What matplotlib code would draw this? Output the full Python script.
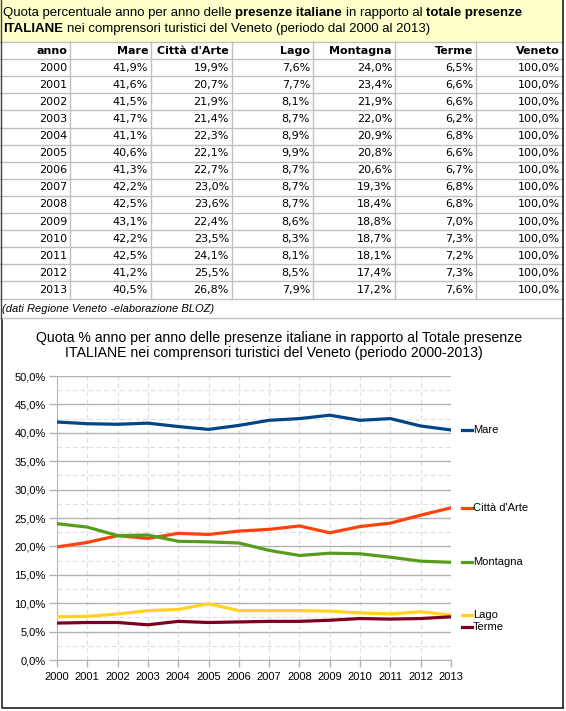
import matplotlib
matplotlib.use('Agg')
import matplotlib.pyplot as plt
from matplotlib.patches import Rectangle
from matplotlib.ticker import MultipleLocator, FuncFormatter
from matplotlib import transforms

# dati Regione Veneto - quota % presenze italiane
anni = [2000, 2001, 2002, 2003, 2004, 2005, 2006, 2007, 2008, 2009, 2010, 2011, 2012, 2013]
mare = [41.9, 41.6, 41.5, 41.7, 41.1, 40.6, 41.3, 42.2, 42.5, 43.1, 42.2, 42.5, 41.2, 40.5]
citta = [19.9, 20.7, 21.9, 21.4, 22.3, 22.1, 22.7, 23.0, 23.6, 22.4, 23.5, 24.1, 25.5, 26.8]
lago = [7.6, 7.7, 8.1, 8.7, 8.9, 9.9, 8.7, 8.7, 8.7, 8.6, 8.3, 8.1, 8.5, 7.9]
montagna = [24.0, 23.4, 21.9, 22.0, 20.9, 20.8, 20.6, 19.3, 18.4, 18.8, 18.7, 18.1, 17.4, 17.2]
terme = [6.5, 6.6, 6.6, 6.2, 6.8, 6.6, 6.7, 6.8, 6.8, 7.0, 7.3, 7.2, 7.3, 7.6]
veneto = [100.0, 100.0, 100.0, 100.0, 100.0, 100.0, 100.0, 100.0, 100.0, 100.0, 100.0, 100.0, 100.0, 100.0]

colonne = ['anno', 'Mare', "Città d'Arte", 'Lago', 'Montagna', 'Terme', 'Veneto']
serie = [('Mare', mare, '#004586'),
         ("Città d'Arte", citta, '#FF420E'),
         ('Montagna', montagna, '#579D1C'),
         ('Lago', lago, '#FFD320'),
         ('Terme', terme, '#7E0021')]


def pct(v):
    return ('%.1f%%' % v).replace('.', ',')


W, H = 566, 711
fig = plt.figure(figsize=(W / 100, H / 100), dpi=100)
bg = fig.add_axes([0, 0, 1, 1])
bg.set_xlim(0, W)
bg.set_ylim(H, 0)
bg.axis('off')
r = fig.canvas.get_renderer()

grigio = '#C0C0C0'
tfont = 'DejaVu Sans'
sfont = 'Liberation Sans'
tsize = 9.5

# titolo su sfondo giallo
bg.add_patch(Rectangle((0, 0), 563, 42, fc='#FFFFCC', ec='none'))


def riga_mista(pezzi, x, y):
    sp = (bg.text(0, 0, 'x x', fontsize=tsize, family=sfont).get_window_extent(r).width
          - bg.text(0, 0, 'xx', fontsize=tsize, family=sfont).get_window_extent(r).width)
    for t in bg.texts[-2:]:
        t.remove()
    for testo, peso in pezzi:
        t = bg.text(x, y, testo, fontsize=tsize, family=sfont, fontweight=peso, va='center', ha='left')
        x += t.get_window_extent(r).width + sp


riga_mista([('Quota percentuale anno per anno delle', 'normal'), ('presenze italiane', 'bold'),
            ('in rapporto al', 'normal'), ('totale presenze', 'bold')], 3, 13)
riga_mista([('ITALIANE', 'bold'),
            ('nei comprensori turistici del Veneto (periodo dal 2000 al 2013)', 'normal')], 3, 29)

# tabella
bordi = [0, 70, 151, 232, 313, 395, 476, 563]
y0 = 42
hr = 17.1
nrighe = len(anni) + 1
for k in range(nrighe + 1):
    bg.plot([0, 563], [y0 + k * hr, y0 + k * hr], color=grigio, lw=1)
for xb in bordi[1:-1]:
    bg.plot([xb, xb], [y0, y0 + nrighe * hr], color=grigio, lw=1)

for j, nome in enumerate(colonne):
    bg.text(bordi[j + 1] - 3, y0 + hr / 2, nome, fontsize=8, family=tfont,
            fontweight='bold', ha='right', va='center')

valori = [mare, citta, lago, montagna, terme, veneto]
for i, anno in enumerate(anni):
    yc = y0 + (i + 1.5) * hr
    bg.text(bordi[1] - 3, yc, str(anno), fontsize=8, family=tfont, ha='right', va='center')
    for j, col in enumerate(valori):
        bg.text(bordi[j + 2] - 3, yc, pct(col[i]), fontsize=8, family=tfont, ha='right', va='center')

yf = y0 + nrighe * hr
bg.text(2, yf + 10, '(dati Regione Veneto -elaborazione BLOZ)', fontsize=8, family=sfont,
        style='italic', ha='left', va='center')
bg.plot([0, 563], [318, 318], color=grigio, lw=1)

# bordi scuri
bg.plot([0.5, 0.5], [0, 318], color='#404040', lw=1)
bg.plot([563, 563], [0, 708], color='#202020', lw=1.2)
bg.plot([2, 2, 563], [320, 708, 708], color='#202020', lw=1.2)

# titolo grafico
bg.text(279, 338, 'Quota % anno per anno delle presenze italiane in rapporto al Totale presenze',
        fontsize=10.2, family=sfont, ha='center', va='center')
bg.text(274, 353, 'ITALIANE nei comprensori turistici del Veneto (periodo 2000-2013)',
        fontsize=10.2, family=sfont, ha='center', va='center')

# grafico
ax = fig.add_axes([57 / W, 1 - 660 / H, (451 - 57) / W, (660 - 376) / H])
ax.set_facecolor('none')
for nome, vals, col in serie:
    ax.plot(anni, vals, color=col, lw=2.3, solid_joinstyle='round', zorder=3)

ax.set_xlim(anni[0], anni[-1])
ax.set_ylim(0, 50)
ax.set_xticks(anni)
ax.yaxis.set_major_locator(MultipleLocator(5))
ax.yaxis.set_minor_locator(MultipleLocator(2.5))
ax.yaxis.set_major_formatter(FuncFormatter(lambda v, p: pct(v)))
ax.grid(axis='y', which='major', color='#B3B3B3', lw=1, ls='-')
ax.grid(axis='y', which='minor', color='#DDDDDD', lw=0.8, ls=(0, (4, 3)))
ax.grid(axis='x', which='major', color='#DDDDDD', lw=0.8, ls=(0, (4, 3)))
ax.tick_params(axis='y', which='major', length=6, color='#B3B3B3', width=1, pad=2, labelsize=8)
ax.tick_params(axis='y', which='minor', length=0)
ax.tick_params(axis='x', length=5, color='#B3B3B3', width=1, pad=4, labelsize=8)
for lab in ax.get_xticklabels() + ax.get_yticklabels():
    lab.set_family(sfont)
for s in ['top', 'right']:
    ax.spines[s].set_visible(False)
for s in ['left', 'bottom']:
    ax.spines[s].set_color('#B3B3B3')

# legenda a fianco delle linee
blend = transforms.blended_transform_factory(ax.transAxes, ax.transData)
spost = {'Terme': -10}
for nome, vals, col in serie:
    tr = transforms.offset_copy(blend, fig=fig, y=spost.get(nome, 0), units='dots')
    ax.plot([1.028, 1.053], [vals[-1], vals[-1]], color=col, lw=2.3, transform=tr, clip_on=False)
    ax.text(1.056, vals[-1], nome, transform=tr, fontsize=8, family=sfont, ha='left', va='center')

fig.savefig('out.png', dpi=100)
